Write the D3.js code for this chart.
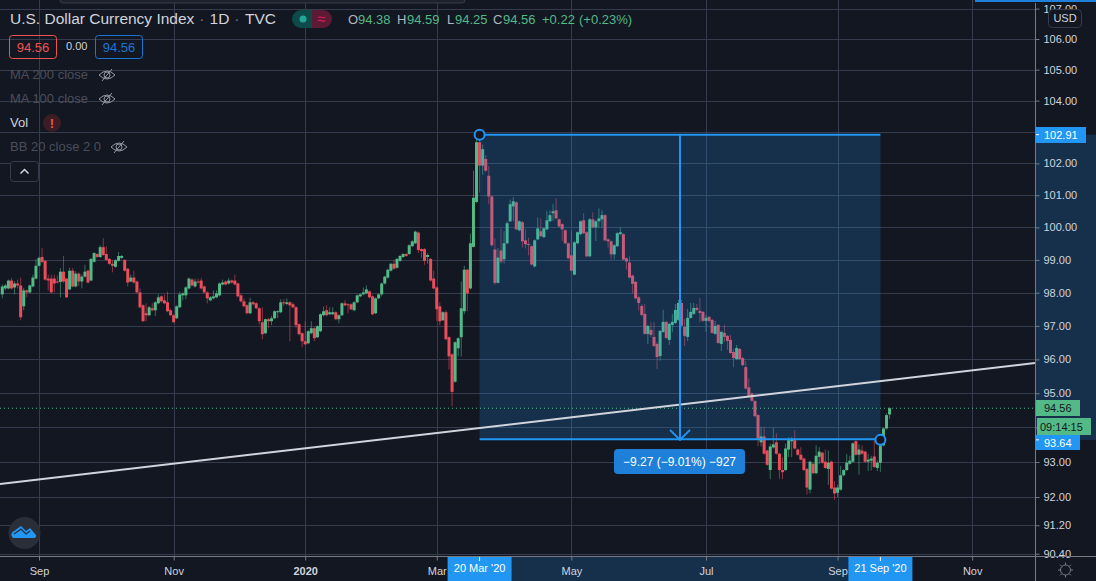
<!DOCTYPE html>
<html><head><meta charset="utf-8">
<script src="https://cdn.jsdelivr.net/npm/d3@7"></script>
<style>html,body{margin:0;padding:0;background:#131722;overflow:hidden}svg{display:block}text{font-family:"Liberation Sans",Arial,sans-serif}</style>
</head><body><svg id="c" width="1096" height="581"></svg>
<script>
const opens=[97.95,98.13,98.13,98.37,98.16,98.28,98.22,97.59,98.07,98.01,
98.19,98.43,98.82,99.09,98.97,98.43,98.43,98.43,98.34,98.33,
98.64,98.43,98.10,98.67,98.19,98.58,98.34,98.49,98.67,98.37,
98.94,99.18,99.09,99.39,99.18,99.03,98.88,98.79,98.97,99.06,
99.00,98.73,98.34,98.46,98.34,98.01,97.62,97.38,97.32,97.53,
97.47,97.68,97.89,97.77,97.71,97.47,97.32,97.23,97.56,97.92,
97.92,98.13,98.40,98.19,98.34,98.37,98.19,98.01,97.77,97.83,
97.86,97.92,98.25,98.34,98.28,98.37,98.37,98.28,
97.92,97.74,97.62,97.38,97.71,97.68,97.53,97.11,96.78,97.20,
97.14,97.23,97.41,97.41,97.71,97.66,97.71,97.65,97.56,97.05,
96.78,96.54,96.48,96.78,96.93,96.66,96.84,97.32,97.47,97.35,
97.35,97.41,97.20,97.32,97.68,97.65,97.65,97.47,97.71,97.89,
97.95,97.98,98.04,97.89,97.38,97.83,97.95,98.28,98.46,98.67,
98.88,98.76,98.97,99.09,99.18,99.18,99.42,99.51,99.84,99.33,
99.33,99.09,99.03,98.43,98.16,97.59,97.17,97.41,96.66,96.15,
95.34,96.33,96.66,97.44,98.70,98.13,99.40,100.79,102.67,101.93,
102.14,101.61,100.96,99.32,98.30,99.29,99.02,99.51,100.19,100.65,
100.78,99.91,100.16,99.60,99.49,99.42,98.80,99.63,99.88,99.70,
99.94,100.19,100.44,100.53,100.25,100.10,99.91,99.51,99.14,98.55,
99.51,99.79,100.22,99.85,99.11,100.25,100.0,100.19,100.25,100.38,
99.63,99.57,99.17,99.42,99.79,99.79,99.05,98.92,98.52,98.33,
97.86,97.60,97.36,96.76,96.88,96.67,96.46,96.10,96.82,97.12,
96.58,97.03,97.09,97.18,97.69,96.97,96.67,97.24,97.36,97.54,
97.45,97.42,97.15,97.27,97.18,96.76,97.03,96.46,96.79,96.70,
96.58,96.22,96.01,96.31,96.04,95.77,95.17,94.99,94.77,94.36,
93.57,93.74,93.33,92.77,93.42,93.57,93.24,92.77,92.77,93.36,
93.60,93.63,93.36,93.21,93.10,92.80,92.21,92.95,92.68,93.15,
93.27,93.01,92.80,93.01,92.27,92.12,92.21,92.62,92.77,92.95,
93.01,93.60,93.21,93.33,93.30,93.01,93.04,93.16,92.83,92.98,
93.48,93.97,94.38];
const closes=[98.19,98.22,98.37,98.13,98.28,98.22,97.26,98.07,98.01,98.22,
98.46,98.82,99.06,98.94,98.40,98.37,98.01,98.28,98.31,98.64,
98.34,97.86,98.67,98.19,98.58,98.34,98.49,98.64,98.31,99.03,
99.21,99.09,99.39,99.15,99.00,98.88,98.82,98.99,99.12,99.12,
98.67,98.31,98.46,98.31,98.01,97.56,97.14,97.32,97.56,97.47,
97.71,97.86,97.74,97.68,97.44,97.32,97.11,97.59,97.95,97.98,
98.16,98.43,98.22,98.34,98.31,98.13,98.01,97.83,97.86,97.89,
97.98,98.28,98.31,98.25,98.37,98.31,98.25,97.89,
97.74,97.59,97.38,97.71,97.65,97.53,97.14,96.75,97.20,97.14,
97.23,97.44,97.44,97.71,97.68,97.71,97.62,97.56,97.02,96.75,
96.54,96.45,96.84,96.93,96.63,96.99,97.35,97.44,97.32,97.41,
97.41,97.20,97.32,97.68,97.62,97.62,97.50,97.71,97.92,97.95,
98.01,98.10,97.86,97.35,97.83,97.95,98.28,98.49,98.70,98.88,
98.73,99.03,99.12,99.18,99.12,99.45,99.57,99.87,99.30,99.27,
98.97,99.15,98.37,98.13,97.50,97.14,97.41,96.60,96.09,95.04,
96.51,96.63,97.53,98.70,97.98,99.51,100.92,102.67,101.93,102.45,
101.77,100.96,99.45,98.30,99.07,98.95,99.51,100.13,100.72,100.81,
99.94,100.19,99.57,99.48,99.47,98.86,99.60,99.97,99.73,99.97,
100.22,100.38,100.50,100.28,100.03,99.94,99.51,99.05,98.67,99.54,
99.85,100.19,99.82,99.11,100.25,100.0,100.19,100.28,100.38,99.60,
99.57,99.17,99.45,99.82,99.85,99.01,98.95,98.46,98.27,97.83,
97.69,97.33,96.76,97.0,96.73,96.40,96.07,96.85,97.12,96.64,
97.06,97.12,97.48,97.69,97.01,96.70,97.24,97.42,97.54,97.48,
97.39,97.15,97.24,97.15,96.79,97.0,96.49,96.82,96.67,96.55,
96.19,96.04,96.34,96.01,95.83,95.14,94.93,94.78,94.33,93.67,
93.74,93.24,92.92,93.45,93.51,93.24,92.77,92.71,93.39,93.63,
93.66,93.39,93.21,93.07,92.77,92.27,93.01,92.68,93.18,93.30,
92.98,92.83,92.98,92.24,92.10,92.27,92.62,92.77,92.98,93.04,
93.54,93.21,93.36,93.24,93.01,93.07,93.10,92.86,92.98,93.48,
93.97,94.36,94.56];
const highs=[98.25,98.27,98.40,98.45,98.35,98.40,98.46,98.15,98.10,98.25,
98.55,99.02,99.10,99.36,99.00,98.55,98.55,98.55,98.52,98.75,
99.12,98.45,98.76,98.75,98.65,98.62,98.55,98.85,98.70,99.06,
99.24,99.20,99.45,99.66,99.42,99.06,99.00,99.02,99.24,99.15,
99.02,98.75,98.55,98.67,98.37,98.13,97.65,97.68,97.60,97.68,
97.74,97.95,97.92,97.95,98.03,97.50,97.35,97.62,98.03,98.02,
98.20,98.46,98.44,98.43,98.43,98.45,98.22,98.04,97.90,98.07,
98.07,98.31,98.40,98.37,98.45,98.40,98.55,98.31,
97.98,97.82,97.65,97.85,97.75,97.72,97.56,97.56,97.22,97.24,
97.30,97.47,97.47,97.80,97.80,97.83,97.74,97.70,97.60,97.08,
96.81,97.14,96.87,97.14,96.96,97.02,97.38,97.58,97.62,97.56,
97.56,97.44,97.35,97.71,97.77,97.68,97.68,97.74,97.95,97.99,
98.16,98.22,98.07,97.92,97.86,97.98,98.31,98.52,98.73,98.91,
99.00,99.06,99.15,99.21,99.21,99.48,99.60,99.90,99.87,99.36,
99.36,99.20,99.06,98.67,98.19,97.71,97.44,97.47,96.69,96.18,
96.54,96.66,98.34,98.82,98.73,99.81,101.77,102.91,102.91,102.60,
102.26,101.92,101.0,99.66,99.36,99.97,99.89,100.19,100.87,100.94,
100.81,100.22,100.19,99.94,99.68,99.45,99.63,100.31,100.28,100.0,
100.51,100.53,100.72,100.90,100.28,100.13,99.94,99.54,99.89,99.58,
99.88,100.22,100.44,99.88,100.28,100.47,100.22,100.59,100.53,100.41,
99.66,99.60,99.48,99.85,100.0,99.82,99.08,99.11,98.55,98.36,
97.91,97.66,97.66,97.03,97.11,97.11,96.51,96.88,97.48,97.15,
97.09,97.36,97.66,97.78,97.78,97.21,97.51,97.69,97.69,97.66,
97.84,97.45,97.33,97.30,97.21,97.15,97.06,96.85,97.03,96.73,
96.73,96.31,96.43,96.34,96.07,95.95,95.44,95.02,94.80,94.39,
94.02,94.02,93.36,93.53,94.0,93.83,93.27,93.14,93.53,93.72,
93.72,93.92,93.39,93.43,93.13,92.83,93.04,92.98,93.48,93.43,
93.30,93.36,93.33,93.04,92.45,92.35,92.89,92.80,93.23,93.18,
93.57,93.63,93.51,93.48,93.33,93.23,93.18,93.63,93.04,93.53,
93.99,94.41,94.59];
const lows=[97.83,98.08,98.10,98.10,97.95,98.13,97.17,97.47,97.86,97.98,
98.16,98.40,98.80,98.90,98.37,98.07,97.98,98.01,98.28,97.86,
98.30,97.84,98.08,98.16,98.16,98.20,98.13,98.46,98.28,98.35,
98.92,99.06,99.06,99.12,98.97,98.85,98.62,98.76,98.94,99.02,
98.64,98.19,98.32,98.28,97.98,97.53,97.12,97.14,97.29,97.44,
97.29,97.65,97.70,97.65,97.41,97.29,97.09,97.20,97.53,97.77,
97.80,98.10,98.19,98.16,98.28,98.10,97.98,97.68,97.74,97.80,
97.83,97.89,98.22,98.22,98.25,98.28,98.22,97.86,
97.70,97.56,97.35,97.35,97.62,97.50,97.04,96.60,96.75,96.93,
97.02,97.20,97.23,97.38,97.60,97.62,96.54,97.53,96.93,96.72,
96.36,96.42,96.45,96.75,96.54,96.63,96.81,97.29,97.29,97.32,
97.32,97.17,97.08,97.29,97.59,97.38,97.47,97.44,97.68,97.86,
97.92,97.95,97.83,97.32,97.35,97.80,97.89,98.25,98.43,98.64,
98.70,98.73,98.94,99.06,99.09,99.15,99.39,99.48,99.21,99.06,
98.85,98.88,98.34,98.10,97.15,97.02,97.14,96.57,95.70,94.62,
95.31,96.09,96.08,97.35,97.44,98.10,99.38,100.75,101.08,101.64,
101.72,100.72,99.40,98.24,98.28,98.89,98.89,99.48,100.16,100.20,
99.91,99.88,99.38,99.35,99.14,98.83,98.77,99.60,99.70,99.67,
99.91,100.16,100.20,100.25,100.0,99.58,99.48,99.02,98.65,98.53,
99.48,99.76,99.79,99.08,99.08,99.97,99.58,99.99,99.99,99.57,
99.38,99.01,99.01,99.39,99.76,98.98,98.70,98.43,97.98,97.80,
97.46,97.29,96.73,96.46,96.66,96.37,95.71,95.96,96.79,96.61,
96.43,96.81,97.06,97.15,96.96,96.40,96.55,97.21,97.33,97.45,
97.11,97.12,96.82,97.11,96.76,96.73,96.46,96.25,96.51,96.28,
96.16,95.77,95.98,95.98,95.80,95.11,94.90,94.75,94.30,93.45,
93.45,93.21,92.89,92.51,93.39,93.21,92.51,92.51,92.74,93.14,
93.14,93.36,93.18,93.04,92.74,92.07,92.10,92.65,92.65,92.94,
92.95,92.80,92.35,92.21,91.92,92.0,92.18,92.59,92.74,92.92,
92.98,93.18,92.64,93.21,92.98,92.74,92.76,92.83,92.74,92.72,
93.45,93.94,94.25];

const priceTicks=[107,106,105,104,103,102,101,100,99,98,97,96,95,94,93,92,91.2,90.4];
const hiddenPriceLabels=[103,94];
const timeTickIndex=[12,56,99,142,186,230,273,317];
const timeTickLabels=["Sep","Nov","2020","Mar","May","Jul","Sep","Nov"];
const startIndex=156, endIndex=287, startPrice=102.91, endPrice=93.64;
const lastPrice=94.56;
const trendIndex=[-0.75,337.5], trendPrice=[92.37,95.89];

const W=1096,H=581,axisX=1035,axisY=557;
const UP="#53b987",DOWN="#eb4d5c",GRID="#363c4e",BLUE="#2196f3",BG="#131722",TXT="#d1d4dc";
const svg=d3.select("#c");
const x=d3.scaleLinear().domain([0,287]).range([2.3,880.4]);
const y=d3.scaleLog().domain([92,106]).range([497,39]);

svg.append("rect").attr("width",W).attr("height",H).attr("fill",BG);
svg.append("clipPath").attr("id","plot").append("rect").attr("width",axisX).attr("height",axisY);
const plot=svg.append("g").attr("clip-path","url(#plot)");

plot.append("g").selectAll("line").data(priceTicks).join("line")
 .attr("x1",0).attr("x2",axisX).attr("y1",d=>Math.round(y(d))+.5).attr("y2",d=>Math.round(y(d))+.5)
 .attr("stroke",GRID).attr("stroke-width",1);
plot.append("g").selectAll("line").data(timeTickIndex).join("line")
 .attr("x1",d=>Math.round(x(d))+.5).attr("x2",d=>Math.round(x(d))+.5).attr("y1",0).attr("y2",axisY)
 .attr("stroke",GRID).attr("stroke-width",1);

const idx=d3.range(opens.length);
const col=i=>closes[i]>=opens[i]?UP:DOWN;
plot.append("g").selectAll("line").data(idx).join("line")
 .attr("x1",i=>x(i)).attr("x2",i=>x(i)).attr("y1",i=>y(highs[i])).attr("y2",i=>y(lows[i]))
 .attr("stroke",col).attr("stroke-width",1).attr("stroke-opacity",.55);
plot.append("g").selectAll("rect").data(idx).join("rect")
 .attr("x",i=>x(i)-1.5).attr("width",3)
 .attr("y",i=>Math.min(y(opens[i]),y(closes[i])))
 .attr("height",i=>Math.max(1,Math.abs(y(opens[i])-y(closes[i]))))
 .attr("fill",col);

const mx0=x(startIndex),mx1=x(endIndex),my0=y(startPrice),my1=y(endPrice),mxm=(mx0+mx1)/2;
plot.append("rect").attr("x",mx0).attr("y",my0).attr("width",mx1-mx0).attr("height",my1-my0)
 .attr("fill",BLUE).attr("fill-opacity",.2);

plot.append("line").attr("x1",0).attr("x2",axisX).attr("y1",y(lastPrice)).attr("y2",y(lastPrice))
 .attr("stroke",UP).attr("stroke-width",1).attr("stroke-dasharray","1 3");

plot.append("line").attr("x1",x(trendIndex[0])).attr("x2",x(trendIndex[1]))
 .attr("y1",y(trendPrice[0])).attr("y2",y(trendPrice[1]))
 .attr("stroke","#d1d4dc").attr("stroke-width",2);

const ms=plot.append("g").attr("stroke",BLUE).attr("fill","none").attr("stroke-width",2);
ms.append("line").attr("x1",mx0).attr("x2",mx1).attr("y1",my0).attr("y2",my0);
ms.append("line").attr("x1",mx0).attr("x2",mx1).attr("y1",my1-.5).attr("y2",my1-.5);
ms.append("line").attr("x1",mxm).attr("x2",mxm).attr("y1",my0).attr("y2",my1);
ms.append("path").attr("d",`M${mxm-10},${my1-10}L${mxm},${my1}L${mxm+10},${my1-10}`);
ms.append("circle").attr("cx",mx0).attr("cy",my0).attr("r",5).attr("fill",BG);
ms.append("circle").attr("cx",mx1).attr("cy",my1).attr("r",5).attr("fill",BG);

plot.append("rect").attr("x",614).attr("y",449).attr("width",131).attr("height",25).attr("rx",4).attr("fill","#1e80d8");
plot.append("text").attr("x",679.5).attr("y",465.5).attr("text-anchor","middle").attr("fill","#fff").attr("font-size",12)
 .text("\u22129.27 (\u22129.01%) \u2212927");

svg.append("rect").attr("x",axisX).attr("y",my0).attr("width",W-axisX).attr("height",my1-my0).attr("fill",BLUE).attr("fill-opacity",.2);
svg.append("rect").attr("x",mx0).attr("y",axisY).attr("width",mx1-mx0).attr("height",H-axisY).attr("fill",BLUE).attr("fill-opacity",.2);

const yAxis=d3.axisRight(y).tickValues(priceTicks)
 .tickFormat(d=>hiddenPriceLabels.includes(d)?"":d3.format(".2f")(d)).tickSize(4).tickPadding(4);
const gy=svg.append("g").attr("transform",`translate(${axisX+.5},0)`).call(yAxis);
gy.select(".domain").attr("d",`M0,3V${H}`).attr("stroke","#787b86");
gy.selectAll(".tick line").attr("stroke","#787b86");
gy.selectAll("text").attr("fill",TXT).attr("font-size",11).style("font-family",'"Liberation Sans",Arial,sans-serif');

const xAxis=d3.axisBottom(x).tickValues(timeTickIndex).tickFormat((d,i)=>timeTickLabels[i]).tickSize(4).tickPadding(7);
const gx=svg.append("g").attr("transform",`translate(0,${axisY-.5})`).call(xAxis);
gx.select(".domain").attr("d",`M0,0H${W}`).attr("stroke","#787b86");
gx.selectAll(".tick line").attr("stroke","#787b86");
gx.selectAll("text").attr("fill",TXT).attr("font-size",11).style("font-family",'"Liberation Sans",Arial,sans-serif')
 .attr("font-weight",(d,i)=>timeTickLabels[i]==="2020"?"bold":null);

function pbox(bx,by,bw,bh,fill,label,tx,ink){
 svg.append("rect").attr("x",bx).attr("y",by).attr("width",bw).attr("height",bh).attr("fill",fill);
 svg.append("text").attr("x",tx).attr("y",by+bh/2+4).attr("fill",ink).attr("font-size",11).text(label);
}
pbox(1035,127,51,16,BLUE,d3.format(".2f")(startPrice),1044,"#fff");
pbox(1036,400,44,16,UP,d3.format(".2f")(lastPrice),1044,"#131722");
pbox(1037,418,54,17,UP,"09:14:15",1040,"#131722");
pbox(1035,435,45,15,BLUE,d3.format(".2f")(endPrice),1044,"#fff");
[[my0],[my1]].forEach(([yy])=>svg.append("line").attr("x1",1036).attr("x2",1039).attr("y1",yy).attr("y2",yy).attr("stroke","#fff"));

function tbox(cx,label){
 svg.append("rect").attr("x",cx-32).attr("y",axisY).attr("width",64).attr("height",H-axisY).attr("fill",BLUE);
 svg.append("text").attr("x",cx).attr("y",572).attr("text-anchor","middle").attr("fill","#fff").attr("font-size",11).text(label);
 svg.append("line").attr("x1",cx).attr("x2",cx).attr("y1",axisY).attr("y2",axisY+4).attr("stroke","#fff");
}
tbox(mx0,"20 Mar '20");tbox(mx1,"21 Sep '20");

svg.append("rect").attr("x",1048.5).attr("y",9.5).attr("width",33).attr("height",18).attr("rx",4).attr("fill",BG).attr("stroke",GRID);
svg.append("text").attr("x",1065).attr("y",22).attr("text-anchor","middle").attr("fill",TXT).attr("font-size",11).text("USD");

svg.append("rect").attr("x",60).attr("y",-4).attr("width",405).attr("height",7).attr("rx",3).attr("fill","#1e222d").attr("stroke",GRID);
svg.append("rect").attr("x",975).attr("y",0).attr("width",121).attr("height",2).attr("fill","#1e80d8");

const lg=svg.append("g");
const title=lg.append("text").attr("x",10).attr("y",24).attr("font-size",15.5).attr("fill",TXT);
title.append("tspan").text("U.S. Dollar Currency Index");
title.append("tspan").attr("dx",5).attr("fill","#787b86").text("\u00b7");
title.append("tspan").attr("dx",5).text("1D");
title.append("tspan").attr("dx",5).attr("fill","#787b86").text("\u00b7");
title.append("tspan").attr("dx",5.5).text("TVC");
lg.append("path").attr("d","M312,10H301a9,9 0 0 0 0,18H312Z").attr("fill","#0d4a4a");
lg.append("path").attr("d","M312,10H323a9,9 0 0 1 0,18H312Z").attr("fill","#5c1a35");
lg.append("circle").attr("cx",303).attr("cy",19).attr("r",3.5).attr("fill","#26a69a");
lg.append("text").attr("x",321).attr("y",24).attr("text-anchor","middle").attr("fill","#d81b60").attr("font-size",15).text("\u2248");
const ohlc=[["O",348,"#b2b5be"],["94.38",358,UP],["H",397,"#b2b5be"],["94.59",407,UP],["L",447,"#b2b5be"],["94.25",455,UP],["C",493,"#b2b5be"],["94.56",503,UP],["+0.22",542,UP],["(+0.23%)",579,UP]];
lg.selectAll("text.o").data(ohlc).join("text").attr("class","o").attr("x",d=>d[1]).attr("y",24).attr("font-size",13).attr("fill",d=>d[2]).text(d=>d[0]);

function pill(px,color,label){
 lg.append("rect").attr("x",px+.5).attr("y",35.5).attr("width",47).attr("height",23).attr("rx",3).attr("fill","none").attr("stroke",color);
 lg.append("text").attr("x",px+24).attr("y",51.5).attr("text-anchor","middle").attr("fill",color).attr("font-size",13).text(label);
}
pill(9,"#ef5350","94.56");pill(95,"#1976d2","94.56");
lg.append("text").attr("x",66).attr("y",50).attr("fill",TXT).attr("font-size",11).text("0.00");

function eye(cx,cy){
 const e=lg.append("g").attr("transform",`translate(${cx},${cy})`).attr("fill","none").attr("stroke","#9598a1").attr("stroke-width",1);
 e.append("path").attr("d","M-8,0Q0,-8 8,0Q0,8 -8,0Z");
 e.append("circle").attr("r",3);
 e.append("path").attr("d","M-5,6L5,-6");
}
const legRows=[["MA 200 close",75,107],["MA 100 close",99,107],["BB 20 close 2 0",147,119]];
legRows.forEach(([t,yy,ex])=>{
 lg.append("text").attr("x",10).attr("y",yy+4).attr("fill","#4a4e5a").attr("font-size",13).text(t);
 eye(ex,yy);
});
lg.append("text").attr("x",10).attr("y",127).attr("fill",TXT).attr("font-size",13).text("Vol");
lg.append("circle").attr("cx",52).attr("cy",123).attr("r",9).attr("fill","#3d1d24");
lg.append("text").attr("x",52).attr("y",127.5).attr("text-anchor","middle").attr("fill","#ef5350").attr("font-size",13).attr("font-weight","bold").text("!");
lg.append("rect").attr("x",10.5).attr("y",161.5).attr("width",28).attr("height",20).attr("rx",3).attr("fill",BG).attr("stroke",GRID);
lg.append("path").attr("d","M20.5,173.5L24.5,169.5L28.5,173.5").attr("fill","none").attr("stroke",TXT).attr("stroke-width",1.5);

lg.append("circle").attr("cx",24.5).attr("cy",533).attr("r",16).attr("fill","#2a2e39");
lg.append("path").attr("d","M13,538a4,4 0 0 1 1,-7L21,526L26,531L30,528L36,535a3,3 0 0 1 -1,3Z").attr("fill","#2196f3");
lg.append("path").attr("d","M14,534L21,529L26,534L30,531").attr("fill","none").attr("stroke","#2a2e39").attr("stroke-width",1.2);

const gear=svg.append("g").attr("transform","translate(1065.5,570)").attr("stroke","#787b86").attr("fill","none");
gear.append("circle").attr("r",5);
d3.range(8).forEach(k=>{const a=k*Math.PI/4;gear.append("line").attr("x1",5*Math.cos(a)).attr("y1",5*Math.sin(a)).attr("x2",7.5*Math.cos(a)).attr("y2",7.5*Math.sin(a));});
</script></body></html>
